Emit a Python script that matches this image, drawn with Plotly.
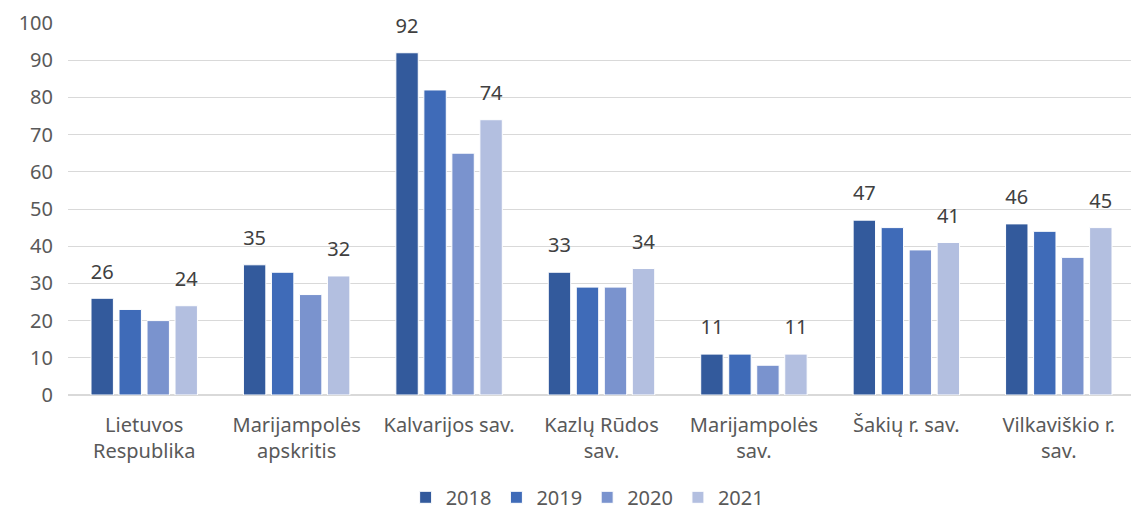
import plotly.graph_objects as go

categories = ["Lietuvos<br>Respublika", "Marijampolės<br>apskritis", "Kalvarijos sav.",
              "Kazlų Rūdos<br>sav.", "Marijampolės<br>sav.", "Šakių r. sav.", "Vilkaviškio r.<br>sav."]
years = ["2018", "2019", "2020", "2021"]
v2018 = [26, 35, 92, 33, 11, 47, 46]
v2019 = [23, 33, 82, 29, 11, 45, 44]
v2020 = [20, 27, 65, 29, 8, 39, 37]
v2021 = [24, 32, 74, 34, 11, 41, 45]
values = [v2018, v2019, v2020, v2021]
colors = ["#335A9C", "#3F6BB8", "#7A93CE", "#B3BFE0"]
labelled = {"2018": True, "2019": False, "2020": False, "2021": True}

font_family = "Noto Sans"
fig = go.Figure()
for y, vals, c in zip(years, values, colors):
    fig.add_trace(go.Bar(
        x=categories, y=vals, name=y, offsetgroup=y,
        marker=dict(color=c, line=dict(color="#FFFFFF", width=1)),
        textposition="none",
    ))
for y, vals in zip(years, values):
    fig.add_trace(go.Scatter(
        x=categories, y=vals, offsetgroup=y, mode="markers+text",
        marker=dict(size=22, color="rgba(0,0,0,0)"),
        text=[str(v) for v in vals] if labelled[y] else None,
        textposition="top center",
        textfont=dict(size=20, color="#404040", family=font_family),
        showlegend=False, hoverinfo="skip", cliponaxis=False,
    ))

fig.update_layout(
    width=1131, height=508,
    margin=dict(l=60, r=4, t=15, b=121, autoexpand=False),
    paper_bgcolor="white", plot_bgcolor="white",
    barmode="group", bargap=0.265, bargroupgap=0.2,
    scattermode="group", scattergap=0.265,
    font=dict(family=font_family, size=20, color="#595959"),
    showlegend=True,
    legend=dict(orientation="h", x=0.487, xanchor="center", y=-0.275, yanchor="middle",
                font=dict(size=20, color="#595959"), itemwidth=30, traceorder="normal"),
    xaxis=dict(showgrid=False, showline=False, ticks="", tickfont=dict(size=20), ticklabelstandoff=16),
    yaxis=dict(range=[0, 100], dtick=10, showgrid=True, gridcolor="#D9D9D9", gridwidth=1,
               zeroline=True, zerolinecolor="#D9D9D9", zerolinewidth=2,
               ticks="", tickfont=dict(size=20), ticklabelstandoff=14),
)
fig.write_html("out.html")
